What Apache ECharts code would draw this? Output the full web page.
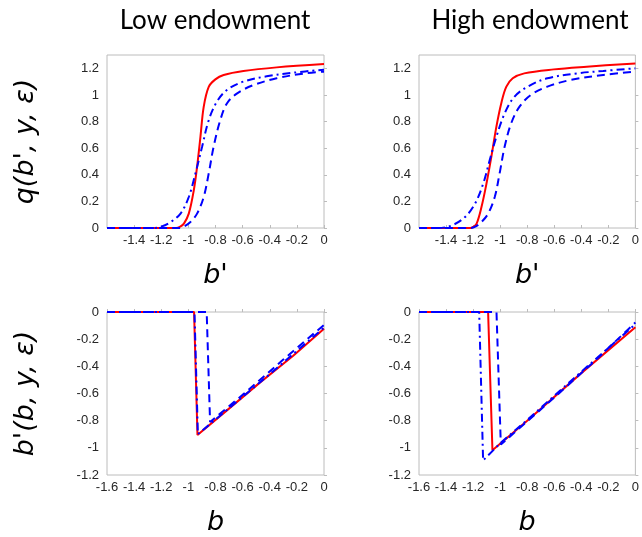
<!DOCTYPE html>
<html>
<head>
<meta charset="utf-8">
<script src="https://cdn.jsdelivr.net/npm/echarts@6/dist/echarts.min.js"></script>
<style>
html,body{margin:0;padding:0;background:#fff;}
#main{width:642px;height:537px;}
</style>
</head>
<body>
<div id="main"></div>
<script>
// 上排：q(b', y, eps)，低禀赋
var lowQ_b_solid = [-1.6, -1.09, -1.06, -1.033, -0.997, -0.96, -0.936, -0.911, -0.887, -0.85, -0.801, -0.74, -0.594, -0.349, 0];
var lowQ_solid   = [0, 0, 0.01, 0.033, 0.108, 0.284, 0.46, 0.685, 0.91, 1.06, 1.117, 1.15, 1.18, 1.207, 1.232];
var lowQ_b_dashdot = [-1.6, -1.25, -1.2, -1.131, -1.058, -0.997, -0.948, -0.899, -0.85, -0.789, -0.716, -0.594, -0.423, -0.227, 0];
var lowQ_dashdot   = [0, 0, 0.01, 0.045, 0.108, 0.233, 0.41, 0.61, 0.81, 0.95, 1.037, 1.1, 1.14, 1.167, 1.19];
var lowQ_b_dashed = [-1.6, -1.07, -1.03, -0.985, -0.936, -0.887, -0.85, -0.814, -0.765, -0.716, -0.643, -0.52, -0.349, -0.154, 0];
var lowQ_dashed   = [0, 0, 0.012, 0.045, 0.108, 0.233, 0.41, 0.61, 0.81, 0.936, 1.01, 1.074, 1.125, 1.16, 1.175];

// 上排：高禀赋
var highQ_b_solid = [-1.6, -1.22, -1.2, -1.174, -1.138, -1.101, -1.065, -1.028, -0.992, -0.955, -0.907, -0.822, -0.603, -0.36, 0];
var highQ_solid   = [0, 0, 0.008, 0.033, 0.158, 0.334, 0.535, 0.76, 0.936, 1.06, 1.125, 1.162, 1.192, 1.212, 1.237];
var highQ_b_dashdot = [-1.6, -1.46, -1.356, -1.259, -1.186, -1.125, -1.077, -1.028, -0.967, -0.895, -0.797, -0.651, -0.433, -0.238, 0];
var highQ_dashdot   = [0, 0, 0.02, 0.083, 0.183, 0.334, 0.51, 0.685, 0.86, 0.986, 1.062, 1.125, 1.162, 1.18, 1.2];
var highQ_b_dashed = [-1.6, -1.22, -1.18, -1.138, -1.089, -1.04, -1.004, -0.967, -0.919, -0.858, -0.773, -0.651, -0.482, -0.238, 0];
var highQ_dashed   = [0, 0, 0.012, 0.045, 0.108, 0.233, 0.41, 0.61, 0.785, 0.91, 1.0, 1.062, 1.112, 1.15, 1.175];

// 下排：b'(b, y, eps)
var lowB_b_solid = [-1.6, -0.958, -0.933, -0.718, -0.473, -0.227, 0];
var lowB_solid   = [0, 0, -0.906, -0.726, -0.52, -0.322, -0.124];
var lowB_b_dashdot = [-1.6, -0.955, -0.93, -0.7, -0.4, 0];
var lowB_dashdot   = [0, 0, -0.9, -0.708, -0.458, -0.115];
var lowB_b_dashed = [-1.6, -0.865, -0.84, -0.6, -0.3, 0];
var lowB_dashed   = [0, 0, -0.81, -0.61, -0.35, -0.095];

var highB_b_solid = [-1.6, -1.089, -1.057, -0.8, -0.4, 0];
var highB_solid   = [0, 0, -1.018, -0.8, -0.45, -0.112];
var highB_b_dashdot = [-1.6, -1.155, -1.126, -1.0, -0.8, -0.4, 0];
var highB_dashdot   = [0, 0, -1.093, -0.967, -0.795, -0.44, -0.09];
var highB_b_dashed = [-1.6, -1.027, -0.995, -0.6, -0.3, 0];
var highB_dashed   = [0, 0, -0.976, -0.63, -0.36, -0.077];

function pairs(xs, ys){
	var out = [];
	for(var i in xs){
		out.push([xs[i], ys[i]]);
	}
	return out;
}

var tickFont = {color:'#262626', fontSize:13, fontFamily:'Liberation Sans, Arial'};
function fmt(v){ return String(+v.toFixed(1)); }
var nameFont = {fontSize:27, fontStyle:'italic', fontFamily:'DejaVu Sans', color:'#000'};

var grids = [
	{left:107, top:55, width:217, height:173},
	{left:419, top:55, width:217, height:173},
	{left:107, top:312, width:217, height:172},
	{left:419, top:312, width:217, height:172}
];
grids.forEach(function(g){ g.show = true; g.borderColor = '#bcbcbc'; g.borderWidth = 1; });

var xAxes = [];
var yAxes = [];
for(var k=0;k<4;k++){
	var isTop = k < 2;
	xAxes.push({
		type:'value', gridIndex:k, min:-1.6, max:0, interval:0.2,
		name: isTop ? "b'" : 'b', nameLocation:'middle', nameGap: 34,
		nameTextStyle:nameFont,
		axisLine:{show:false}, splitLine:{show:false},
		axisTick:{inside:true, length:3, lineStyle:{color:'#bcbcbc'}},
		axisLabel:Object.assign({showMinLabel:!isTop, formatter:fmt, margin:6}, tickFont)
	});
	yAxes.push({
		type:'value', gridIndex:k,
		min: isTop ? 0 : -1.2, max: isTop ? 1.3 : 0, interval:0.2,
		name: k===0 ? "q(b', y, \u03b5)" : (k===2 ? "b'(b, y, \u03b5)" : ''),
		nameLocation:'middle', nameGap:68, nameRotate:90,
		nameTextStyle:nameFont,
		axisLine:{show:false}, splitLine:{show:false},
		axisTick:{inside:true, length:3, lineStyle:{color:'#bcbcbc'}},
		axisLabel:Object.assign({showMaxLabel:!isTop, formatter:fmt, margin:8}, tickFont)
	});
}

var solid = {color:'#ff0000', width:2, type:'solid'};
var dashdot = {color:'#0000ff', width:2, type:[8,4,2,4]};
var dashed = {color:'#0000ff', width:2, type:[8,5]};

function line(k, xs, ys, style, smooth){
	return {
		type:'line', xAxisIndex:k, yAxisIndex:k, data:pairs(xs, ys),
		showSymbol:false, smooth: smooth ? 0.35 : false,
		lineStyle:style, animation:false, z: style.color === '#ff0000' ? 2 : 3
	};
}

var myChart = echarts.init(document.getElementById('main'));
var option = {
	backgroundColor:'#fff',
	animation:false,
	title:[
		{text:'Low endowment', left:210, top:3, textAlign:'center', textStyle:{fontSize:26, fontWeight:'normal', fontFamily:'Lato', color:'#000'}},
		{text:'High endowment', left:525, top:3, textAlign:'center', textStyle:{fontSize:26, fontWeight:'normal', fontFamily:'Lato', color:'#000'}}
	],
	grid:grids,
	xAxis:xAxes,
	yAxis:yAxes,
	series:[
		line(0, lowQ_b_solid, lowQ_solid, solid, true),
		line(0, lowQ_b_dashdot, lowQ_dashdot, dashdot, true),
		line(0, lowQ_b_dashed, lowQ_dashed, dashed, true),
		line(1, highQ_b_solid, highQ_solid, solid, true),
		line(1, highQ_b_dashdot, highQ_dashdot, dashdot, true),
		line(1, highQ_b_dashed, highQ_dashed, dashed, true),
		line(2, lowB_b_solid, lowB_solid, solid, false),
		line(2, lowB_b_dashdot, lowB_dashdot, dashdot, false),
		line(2, lowB_b_dashed, lowB_dashed, dashed, false),
		line(3, highB_b_solid, highB_solid, solid, false),
		line(3, highB_b_dashdot, highB_dashdot, dashdot, false),
		line(3, highB_b_dashed, highB_dashed, dashed, false)
	]
};
myChart.setOption(option);
</script>
</body>
</html>
